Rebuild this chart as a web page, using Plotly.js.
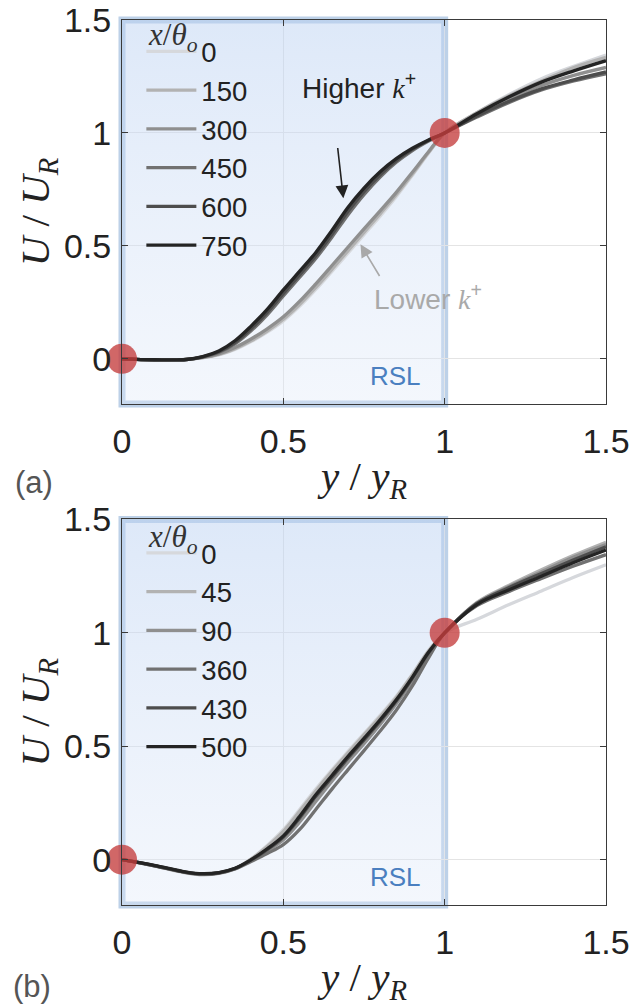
<!DOCTYPE html>
<html>
<head>
<meta charset="utf-8">
<script src="https://cdn.plot.ly/plotly-3.0.1.min.js"></script>
<style>html,body{margin:0;padding:0;background:#fff;}#chart{width:631px;height:1008px;}</style>
</head>
<body>
<div id="chart"></div>
<script>
// ---------- data ----------
const yOverYR = [0, 0.1, 0.2, 0.25, 0.3, 0.35, 0.4, 0.45, 0.5, 0.55, 0.6, 0.65, 0.7, 0.75, 0.8, 0.85, 0.9, 0.95, 1.0, 1.1, 1.2, 1.3, 1.4, 1.5];

// panel (a): x/theta_o stations
const stationsA = ['0', '150', '300', '450', '600', '750'];
const a0   = [0, -0.004, -0.002, 0.004, 0.017, 0.041, 0.076, 0.118, 0.168, 0.232, 0.306, 0.386, 0.468, 0.55, 0.632, 0.718, 0.812, 0.91, 1.0, 1.090, 1.170, 1.240, 1.295, 1.345];
const a150 = [0, -0.004, -0.002, 0.005, 0.019, 0.045, 0.080, 0.123, 0.175, 0.240, 0.315, 0.395, 0.478, 0.560, 0.642, 0.726, 0.818, 0.913, 1.0, 1.090, 1.165, 1.230, 1.290, 1.335];
const a300 = [0, -0.004, -0.002, 0.006, 0.022, 0.050, 0.088, 0.133, 0.186, 0.254, 0.331, 0.412, 0.494, 0.575, 0.655, 0.737, 0.826, 0.917, 1.0, 1.080, 1.150, 1.210, 1.255, 1.290];
const a450 = [0, -0.004, -0.003, 0.008, 0.028, 0.066, 0.124, 0.195, 0.278, 0.360, 0.443, 0.537, 0.637, 0.727, 0.805, 0.870, 0.922, 0.964, 1.0, 1.070, 1.135, 1.190, 1.230, 1.262];
const a600 = [0, -0.004, -0.003, 0.009, 0.031, 0.072, 0.133, 0.206, 0.290, 0.372, 0.455, 0.550, 0.652, 0.740, 0.815, 0.877, 0.927, 0.967, 1.0, 1.075, 1.140, 1.195, 1.235, 1.270];
const a750 = [0, -0.004, -0.003, 0.010, 0.035, 0.080, 0.145, 0.219, 0.305, 0.387, 0.470, 0.567, 0.670, 0.756, 0.828, 0.886, 0.932, 0.969, 1.0, 1.085, 1.160, 1.225, 1.275, 1.320];

// panel (b)
const stationsB = ['0', '45', '90', '360', '430', '500'];
const b0   = [0, -0.028, -0.059, -0.067, -0.061, -0.041, 0.003, 0.062, 0.132, 0.220, 0.310, 0.395, 0.476, 0.556, 0.636, 0.720, 0.818, 0.922, 1.0, 1.060, 1.125, 1.185, 1.245, 1.300];
const b45  = [0, -0.027, -0.058, -0.066, -0.060, -0.040, 0.002, 0.058, 0.125, 0.212, 0.302, 0.388, 0.470, 0.550, 0.630, 0.715, 0.815, 0.920, 1.0, 1.135, 1.210, 1.278, 1.342, 1.400];
const b90  = [0, -0.026, -0.056, -0.063, -0.058, -0.040, -0.004, 0.038, 0.088, 0.165, 0.255, 0.345, 0.430, 0.511, 0.596, 0.687, 0.788, 0.904, 1.0, 1.130, 1.205, 1.270, 1.335, 1.390];
const b360 = [0, -0.027, -0.057, -0.064, -0.059, -0.041, -0.008, 0.027, 0.066, 0.132, 0.220, 0.310, 0.396, 0.481, 0.567, 0.659, 0.766, 0.890, 1.0, 1.120, 1.183, 1.240, 1.295, 1.345];
const b430 = [0, -0.026, -0.056, -0.063, -0.058, -0.039, -0.002, 0.044, 0.100, 0.183, 0.277, 0.362, 0.447, 0.528, 0.610, 0.699, 0.800, 0.912, 1.0, 1.130, 1.200, 1.262, 1.322, 1.380];
const b500 = [0, -0.025, -0.055, -0.062, -0.057, -0.038, 0.000, 0.048, 0.105, 0.190, 0.285, 0.370, 0.455, 0.535, 0.617, 0.705, 0.805, 0.915, 1.0, 1.125, 1.190, 1.250, 1.310, 1.365];

// reference points and RSL extent
const refX = [0, 1];
const refY = [0, 1];
const rslX = [0, 1];
const yRange = [-0.2, 1.5];
const xRange = [0, 1.5];
const tickVals = [0, 0.5, 1, 1.5];
const tickText = ['0', '0.5', '1', '1.5'];

// ---------- styles ----------
const greys = ['#d6d8dc', '#b2b2b2', '#8f8f8f', '#717171', '#4d4d4d', '#242424'];
const seriesA = [a0, a150, a300, a450, a600, a750];
const seriesB = [b0, b45, b90, b360, b430, b500];
const SANS = 'Liberation Sans, Arial, sans-serif';
const SERIF = 'Liberation Serif, Times New Roman, serif';

const traces = [];
function band(xa, ya) {
  traces.push({
    x: [rslX[0], rslX[1], rslX[1], rslX[0], rslX[0]],
    y: [yRange[0], yRange[0], yRange[1], yRange[1], yRange[0]],
    xaxis: xa, yaxis: ya, mode: 'lines', fill: 'toself',
    line: {width: 0, color: 'rgba(0,0,0,0)'},
    fillgradient: {type: 'vertical', start: yRange[0], stop: yRange[1],
      colorscale: [[0, 'rgba(222,232,248,0.35)'], [1, 'rgba(188,210,242,0.5)']]},
    showlegend: false, hoverinfo: 'skip'
  });
}
band('x', 'y');
band('x2', 'y2');

stationsA.forEach((s, i) => traces.push({
  x: yOverYR, y: seriesA[i], xaxis: 'x', yaxis: 'y', mode: 'lines', name: s,
  line: {color: greys[i], width: 3.3, shape: 'spline', smoothing: 1},
  legend: 'legend'
}));
stationsB.forEach((s, i) => traces.push({
  x: yOverYR, y: seriesB[i], xaxis: 'x2', yaxis: 'y2', mode: 'lines', name: s,
  line: {color: greys[i], width: 3.3, shape: 'spline', smoothing: 1},
  legend: 'legend2'
}));
[['x', 'y'], ['x2', 'y2']].forEach(([xa, ya]) => traces.push({
  x: refX, y: refY, xaxis: xa, yaxis: ya, mode: 'markers', showlegend: false,
  marker: {size: 30, color: 'rgba(196,60,60,0.78)'}, cliponaxis: false, hoverinfo: 'skip'
}));

function xAxis(anchor) {
  return {
    anchor: anchor, domain: [0, 1], range: xRange, tickvals: tickVals, ticktext: tickText,
    showgrid: true, gridcolor: '#e4e4e4', gridwidth: 1, zeroline: false,
    showline: true, linecolor: '#3a3a3a', linewidth: 1, mirror: 'ticks',
    ticks: 'inside', ticklen: 6, tickcolor: '#3a3a3a', ticklabeloverflow: 'allow',
    tickfont: {family: SANS, size: 34, color: '#222'}, ticklabelstandoff: 7,
    title: {text: '<i>y</i> / <i>y</i><sub><i>R</i></sub>', font: {family: SERIF, size: 41, color: '#222'}, standoff: 2}
  };
}
function yAxis(anchor, dom) {
  return {
    anchor: anchor, domain: dom, range: yRange, tickvals: tickVals, ticktext: tickText,
    showgrid: true, gridcolor: '#e4e4e4', gridwidth: 1, zeroline: false,
    showline: true, linecolor: '#3a3a3a', linewidth: 1, mirror: 'ticks',
    ticks: 'inside', ticklen: 6, tickcolor: '#3a3a3a', ticklabeloverflow: 'allow',
    tickfont: {family: SANS, size: 34, color: '#222'}, ticklabelstandoff: 3,
    title: {text: '<i>U</i> / <i>U</i><sub><i>R</i></sub>', font: {family: SERIF, size: 41, color: '#222'}, standoff: 0}
  };
}

function bandBorder(xa, ya) {
  return {type: 'rect', xref: xa + ' domain', yref: ya + ' domain',
    x0: (rslX[0] - xRange[0]) / (xRange[1] - xRange[0]), x1: (rslX[1] - xRange[0]) / (xRange[1] - xRange[0]),
    y0: 0, y1: 1, line: {color: 'rgba(145,178,216,0.6)', width: 7}, fillcolor: 'rgba(0,0,0,0)', layer: 'below'};
}

const kPlus = '<span style="font-family:Liberation Serif;font-style:italic">k</span><sup>+</sup>';
const annotations = [
  // legend titles
  {xref: 'x domain', yref: 'y domain', x: 0.05, y: 0.955, xanchor: 'left', yanchor: 'middle', showarrow: false,
   text: '<i>x</i>/<i>θ</i><sub><i>o</i></sub>', font: {family: SERIF, size: 31, color: '#333'}},
  {xref: 'x2 domain', yref: 'y2 domain', x: 0.05, y: 0.949, xanchor: 'left', yanchor: 'middle', showarrow: false,
   text: '<i>x</i>/<i>θ</i><sub><i>o</i></sub>', font: {family: SERIF, size: 31, color: '#333'}},
  // Higher k+
  {xref: 'x', yref: 'y', x: 0.733, y: 1.21, showarrow: false, text: 'Higher ' + kPlus,
   font: {family: SANS, size: 28, color: '#222'}},
  {xref: 'x', yref: 'y', axref: 'x', ayref: 'y', x: 0.686, y: 0.711, ax: 0.668, ay: 0.94, text: '',
   showarrow: true, arrowhead: 2, arrowsize: 1.6, arrowwidth: 1.6, arrowcolor: '#222', standoff: 0, startstandoff: 0},
  // Lower k+
  {xref: 'x', yref: 'y', x: 0.947, y: 0.272, showarrow: false, text: 'Lower ' + kPlus,
   font: {family: SANS, size: 28, color: '#a9a9a9'}},
  {xref: 'x', yref: 'y', axref: 'x', ayref: 'y', x: 0.739, y: 0.507, ax: 0.801, ay: 0.36, text: '',
   showarrow: true, arrowhead: 2, arrowsize: 1.6, arrowwidth: 1.6, arrowcolor: '#a9a9a9', standoff: 0, startstandoff: 0},
  // RSL labels
  {xref: 'x', yref: 'y', x: 0.848, y: -0.075, showarrow: false, text: 'RSL', font: {family: SANS, size: 26, color: '#4a7fc0'}},
  {xref: 'x2', yref: 'y2', x: 0.848, y: -0.078, showarrow: false, text: 'RSL', font: {family: SANS, size: 26, color: '#4a7fc0'}},
  // panel letters
  {xref: 'paper', yref: 'paper', x: -0.182, y: 0.477, xanchor: 'center', yanchor: 'middle', showarrow: false,
   text: '(a)', font: {family: SANS, size: 31, color: '#555'}},
  {xref: 'paper', yref: 'paper', x: -0.186, y: -0.092, xanchor: 'center', yanchor: 'middle', showarrow: false,
   text: '(b)', font: {family: SANS, size: 31, color: '#555'}}
];

const legendStyle = {
  bgcolor: 'rgba(0,0,0,0)', borderwidth: 0, xanchor: 'left', yanchor: 'top',
  font: {family: SANS, size: 27.5, color: '#222'}, itemwidth: 50, tracegroupgap: 0, traceorder: 'normal'
};

const layout = {
  width: 631, height: 1008,
  margin: {l: 122, r: 25, t: 20, b: 103, pad: 0},
  paper_bgcolor: '#fff', plot_bgcolor: '#fff',
  showlegend: true,
  xaxis: xAxis('y'), yaxis: yAxis('x', [0.5661, 1]),
  xaxis2: xAxis('y2'), yaxis2: yAxis('x2', [0, 0.4356]),
  legend: Object.assign({x: 0.04, y: 0.992}, legendStyle),
  legend2: Object.assign({x: 0.04, y: 0.4254}, legendStyle),
  shapes: [bandBorder('x', 'y'), bandBorder('x2', 'y2')],
  annotations: annotations
};

Plotly.newPlot('chart', traces, layout, {displayModeBar: false, staticPlot: true});
</script>
</body>
</html>
